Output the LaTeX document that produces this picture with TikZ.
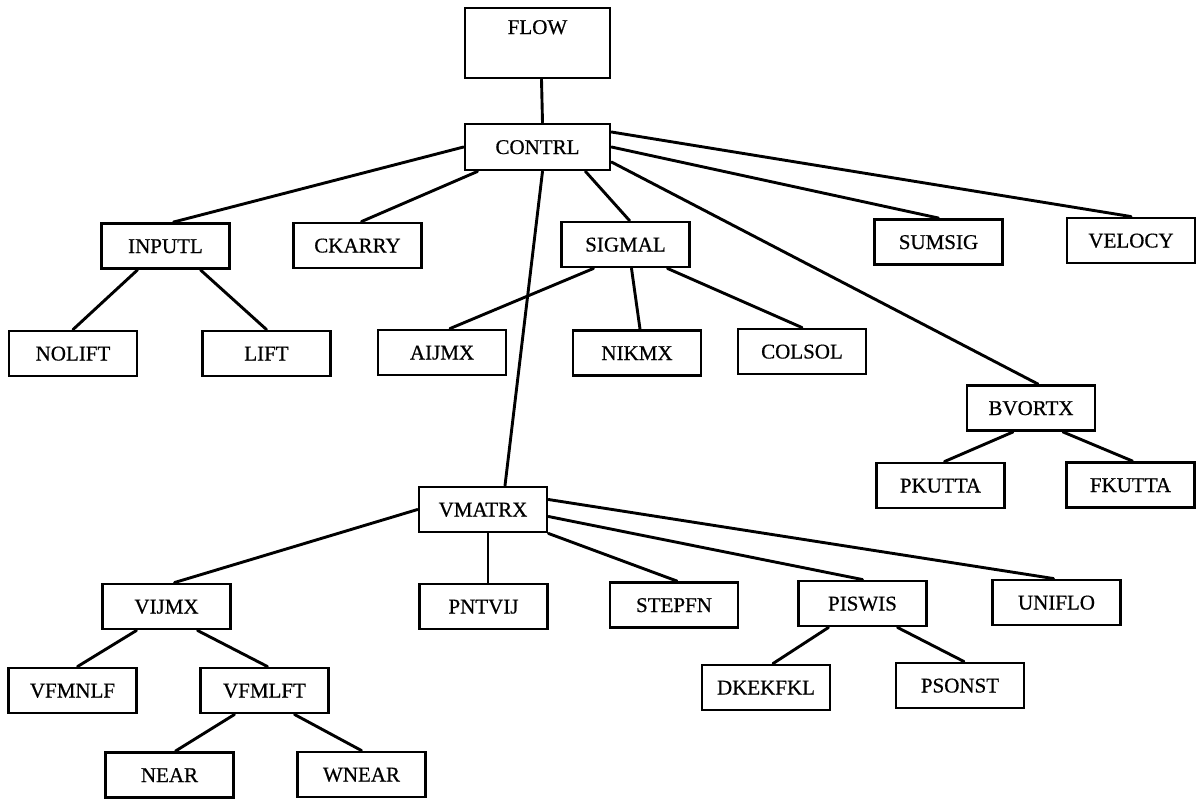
\documentclass[tikz,border=0pt]{standalone}
\usepackage{fontspec}
\setmainfont{Liberation Serif}
\newfontfamily\boxfont{Liberation Serif}[FakeBold=0.6]
\begin{document}
\begin{tikzpicture}[x=1pt, y=-1pt, font={\boxfont\fontsize{21pt}{25pt}\selectfont}, line cap=round,
		box/.style={draw, line width=2.9pt, rectangle, inner sep=0pt, minimum width=128pt, minimum height=45pt, text height=14pt, text depth=0pt},
		link/.style={line width=2.9pt}]
		\useasboundingbox (0,0) rectangle (1197,804);
		\node[box, minimum width=145pt, inner ysep=12pt, text depth=32pt] (flow) at (537.5,43) {FLOW};
		\node[box, minimum width=145pt, minimum height=46pt] (contrl) at (537.5,147) {CONTRL};
		\node[box] (inputl) at (165.5,246) {INPUTL};
		\node[box] (ckarry) at (357.5,245.5) {CKARRY};
		\node[box] (sigmal) at (625.5,244.5) {SIGMAL};
		\node[box] (sumsig) at (938.5,242) {SUMSIG};
		\node[box] (velocy) at (1131,240.5) {VELOCY};
		\node[box] (nolift) at (73,353.5) {NOLIFT};
		\node[box] (lift) at (266.5,353.5) {LIFT};
		\node[box] (aijmx) at (442,352.5) {AIJMX};
		\node[box] (nikmx) at (637,353) {NIKMX};
		\node[box] (colsol) at (802,351.5) {COLSOL};
		\node[box] (bvortx) at (1031,408) {BVORTX};
		\node[box] (pkutta) at (940.5,485.5) {PKUTTA};
		\node[box] (fkutta) at (1130.5,485) {FKUTTA};
		\node[box] (vmatrx) at (483,509.5) {VMATRX};
		\node[box] (vijmx) at (166.5,606.5) {VIJMX};
		\node[box] (pntvij) at (483.5,606.5) {PNTVIJ};
		\node[box] (stepfn) at (674,605) {STEPFN};
		\node[box] (piswis) at (862.5,603.5) {PISWIS};
		\node[box] (uniflo) at (1056.5,602.5) {UNIFLO};
		\node[box] (vfmnlf) at (72.5,690.5) {VFMNLF};
		\node[box] (vfmlft) at (264.5,690.5) {VFMLFT};
		\node[box] (near) at (169.5,775) {NEAR};
		\node[box] (wnear) at (361.5,774.5) {WNEAR};
		\node[box] (dkekfkl) at (766,687.5) {DKEKFKL};
		\node[box] (psonst) at (960,685.5) {PSONST};
		\draw[link] ([xshift=4pt]flow.south) -- ([xshift=5pt]contrl.north);
		\draw[link] (contrl.west) -- ([xshift=8pt]inputl.north);
		\draw[link] ([xshift=-60pt]contrl.south) -- ([xshift=4pt]ckarry.north);
		\draw[link] ([xshift=5pt]contrl.south) -- ([xshift=22pt]vmatrx.north);
		\draw[link] ([xshift=48pt]contrl.south) -- ([xshift=4pt]sigmal.north);
		\draw[link] (contrl.east) -- (sumsig.north);
		\draw[link] ([yshift=15pt]contrl.east) -- (velocy.north);
		\draw[link] ([yshift=-15pt]contrl.east) -- ([xshift=7pt]bvortx.north);
		\draw[link] ([xshift=-28pt]inputl.south) -- (nolift.north);
		\draw[link] ([xshift=35pt]inputl.south) -- (lift.north);
		\draw[link] ([xshift=-32pt]sigmal.south) -- ([xshift=8pt]aijmx.north);
		\draw[link] ([xshift=6pt]sigmal.south) -- ([xshift=3pt]nikmx.north);
		\draw[link] ([xshift=42pt]sigmal.south) -- (colsol.north);
		\draw[link] ([xshift=-18pt]bvortx.south) -- ([xshift=4pt]pkutta.north);
		\draw[link] ([xshift=32pt]bvortx.south) -- ([xshift=2pt]fkutta.north);
		\draw[link] (vmatrx.west) -- ([xshift=8pt]vijmx.north);
		\draw[link] ([xshift=5pt]vmatrx.south) -- ([xshift=4.5pt]pntvij.north);
		\draw[link] (vmatrx.south east) -- ([xshift=3pt]stepfn.north);
		\draw[link] ([yshift=-7pt]vmatrx.east) -- (piswis.north);
		\draw[link] ([yshift=10pt]vmatrx.east) -- ([xshift=-3pt]uniflo.north);
		\draw[link] ([xshift=-30pt]vijmx.south) -- ([xshift=5pt]vfmnlf.north);
		\draw[link] ([xshift=31pt]vijmx.south) -- ([xshift=3pt]vfmlft.north);
		\draw[link] ([xshift=-30pt]vfmlft.south) -- ([xshift=6pt]near.north);
		\draw[link] ([xshift=30pt]vfmlft.south) -- (wnear.north);
		\draw[link] ([xshift=-34pt]piswis.south) -- ([xshift=7pt]dkekfkl.north);
		\draw[link] ([xshift=35pt]piswis.south) -- ([xshift=4pt]psonst.north);
\end{tikzpicture}
\end{document}
